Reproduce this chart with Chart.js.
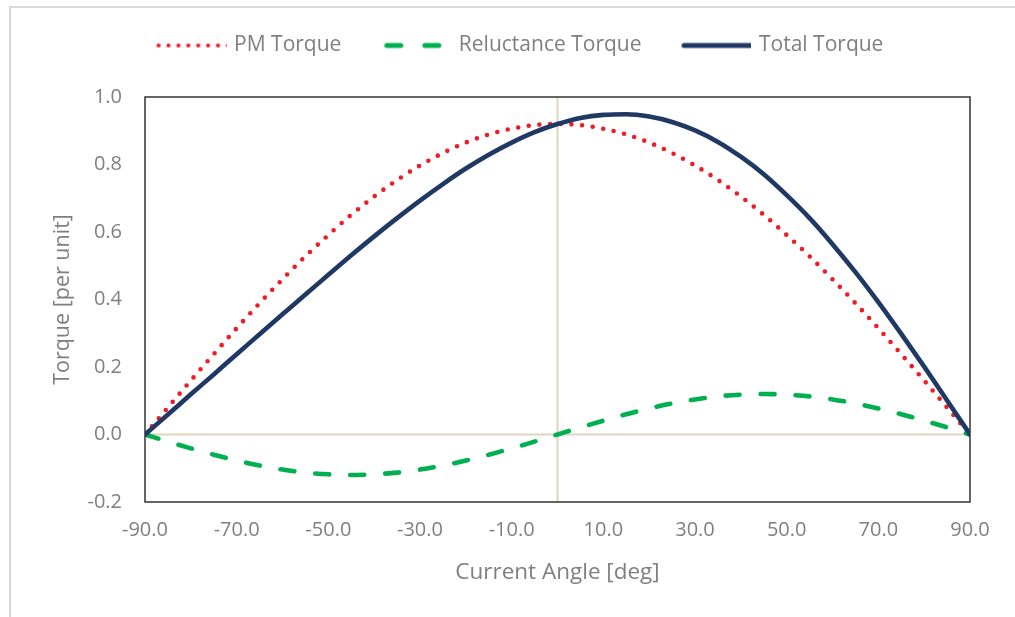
<!DOCTYPE html>
<html>
<head>
<meta charset="utf-8">
<script src="https://cdn.jsdelivr.net/npm/chart.js@4.4.1/dist/chart.umd.min.js"></script>
<style>
  body { margin: 0; background: #fff; }
  #wrap { position: absolute; left: 0; top: 0; width: 1015px; height: 617px; overflow: hidden; }
  #edge { position: absolute; left: 9px; top: 6px; width: 1100px; height: 700px;
          border-left: 2px solid #d9d9d9; border-top: 2px solid #d9d9d9; }
  canvas { position: absolute; left: 0; top: 0; }
</style>
</head>
<body>
<div id="wrap">
  <div id="edge"></div>
  <canvas id="chart" width="1015" height="617"></canvas>
</div>
<script>
// current angle [deg]
const angles = [-90, -85, -80, -75, -70, -65, -60, -55, -50, -45, -40, -35, -30, -25, -20, -15, -10, -5,
  0, 5, 10, 15, 20, 25, 30, 35, 40, 45, 50, 55, 60, 65, 70, 75, 80, 85, 90];

// torque [per unit]
const pmTorque = [0.000, 0.080, 0.160, 0.238, 0.315, 0.389, 0.460, 0.528, 0.591, 0.651, 0.705, 0.754, 0.797, 0.834, 0.865, 0.889, 0.906, 0.917,
  0.920, 0.917, 0.906, 0.889, 0.865, 0.834, 0.797, 0.754, 0.705, 0.651, 0.591, 0.528, 0.460, 0.389, 0.315, 0.238, 0.160, 0.080, 0.000];
const relTorque = [0.000, -0.021, -0.041, -0.060, -0.077, -0.092, -0.104, -0.113, -0.118, -0.120, -0.118, -0.113, -0.104, -0.092, -0.077, -0.060, -0.041, -0.021,
  0.000, 0.021, 0.041, 0.060, 0.077, 0.092, 0.104, 0.113, 0.118, 0.120, 0.118, 0.113, 0.104, 0.092, 0.077, 0.060, 0.041, 0.021, 0.000];
const totalTorque = [0.000, 0.059, 0.119, 0.178, 0.238, 0.297, 0.356, 0.415, 0.473, 0.531, 0.587, 0.641, 0.693, 0.742, 0.788, 0.829, 0.865, 0.896,
  0.920, 0.938, 0.947, 0.949, 0.942, 0.926, 0.901, 0.867, 0.823, 0.771, 0.709, 0.641, 0.564, 0.481, 0.392, 0.298, 0.201, 0.101, 0.000];

const xTicks = [-90, -70, -50, -30, -10, 10, 30, 50, 70, 90];
const yTicks = [-0.2, 0.0, 0.2, 0.4, 0.6, 0.8, 1.0];

const pts = vals => angles.map((a, i) => ({ x: a, y: vals[i] }));
const grey = '#7f7f7f';
const fontFam = '"Open Sans", sans-serif';
const red = '#ee1c25', green = '#00b050', navy = '#1f3864';

// legend line samples (Excel style), drawn into small canvases
const BOX = 97, IMG = 103, S0 = 33;
function sample(kind, color) {
  const c = document.createElement('canvas');
  c.width = IMG; c.height = 8;
  const g = c.getContext('2d');
  g.fillStyle = color; g.strokeStyle = color; g.lineCap = 'round'; g.lineWidth = 5;
  if (kind === 'dot') {
    for (let i = 0; i < 8; i++) {
      g.beginPath(); g.arc(S0 + 2 + i * 9.9, 4, 2.1, 0, Math.PI * 2); g.fill();
    }
  } else if (kind === 'dash') {
    g.beginPath();
    g.moveTo(S0 + 5.5, 4); g.lineTo(S0 + 19.5, 4);
    g.moveTo(S0 + 43.5, 4); g.lineTo(S0 + 57.5, 4);
    g.stroke();
  } else {
    g.beginPath(); g.moveTo(S0 + 2.5, 4); g.lineTo(S0 + 70, 4); g.stroke();
  }
  return c;
}
const samples = [sample('dot', red), sample('dash', green), sample('line', navy)];

// zero lines + plot frame, under the series
const frame = {
  id: 'frame',
  beforeDatasetsDraw(chart) {
    const { ctx, chartArea: a, scales: { x, y } } = chart;
    const x0 = x.getPixelForValue(0), y0 = y.getPixelForValue(0);
    ctx.save();
    ctx.strokeStyle = '#ddd6bd';
    ctx.lineWidth = 2;
    ctx.beginPath();
    ctx.moveTo(a.left, y0); ctx.lineTo(a.right, y0);
    ctx.moveTo(x0, a.top); ctx.lineTo(x0, a.bottom);
    ctx.stroke();
    ctx.strokeStyle = '#333';
    ctx.lineWidth = 1.5;
    ctx.strokeRect(a.left, a.top, a.width, a.height);
    ctx.restore();
  }
};

// fixed legend block height so the plot starts at the same place
const legendHeight = {
  id: 'legendHeight',
  beforeInit(chart) {
    const fit = chart.legend.fit;
    chart.legend.fit = function () {
      fit.bind(chart.legend)();
      this.height = 72;
    };
  }
};

new Chart(document.getElementById('chart'), {
  type: 'line',
  data: {
    datasets: [{
      label: 'PM Torque',
      data: pts(pmTorque),
      borderColor: red,
      borderWidth: 4.6,
      borderDash: [0, 10.7],
      borderCapStyle: 'round',
      pointRadius: 0,
      cubicInterpolationMode: 'monotone',
      order: 2
    }, {
      label: 'Reluctance Torque',
      data: pts(relTorque),
      borderColor: green,
      borderWidth: 4.6,
      borderDash: [14, 21],
      borderCapStyle: 'round',
      pointRadius: 0,
      cubicInterpolationMode: 'monotone',
      order: 1
    }, {
      label: 'Total Torque',
      data: pts(totalTorque),
      borderColor: navy,
      borderWidth: 4.6,
      borderCapStyle: 'round',
      pointRadius: 0,
      cubicInterpolationMode: 'monotone',
      order: 0
    }]
  },
  options: {
    responsive: false,
    animation: false,
    layout: { padding: { left: 40, right: 45, top: 25, bottom: 20 } },
    plugins: {
      tooltip: { enabled: false },
      legend: {
        position: 'top',
        labels: {
          usePointStyle: true,
          pointStyleWidth: BOX,
          padding: 10,
          color: grey,
          font: { family: fontFam, size: 21 },
          generateLabels(chart) {
            const items = Chart.defaults.plugins.legend.labels.generateLabels(chart);
            return items
              .sort((a, b) => a.datasetIndex - b.datasetIndex)
              .map(it => Object.assign(it, { pointStyle: samples[it.datasetIndex] }));
          }
        }
      }
    },
    scales: {
      x: {
        type: 'linear',
        min: -90,
        max: 90,
        afterBuildTicks: s => { s.ticks = xTicks.map(v => ({ value: v })); },
        afterFit: s => { s.height = 95; },
        grid: { display: false, drawTicks: false },
        border: { display: false },
        ticks: { color: grey, padding: 16, font: { family: fontFam, size: 20 }, callback: v => v.toFixed(1), maxRotation: 0 },
        title: { display: true, text: 'Current Angle [deg]', color: grey, font: { family: fontFam, size: 22.5 }, padding: { bottom: 11 } }
      },
      y: {
        min: -0.2,
        max: 1.0,
        afterBuildTicks: s => { s.ticks = yTicks.map(v => ({ value: v })); },
        afterFit: s => { s.width = 105; },
        grid: { display: false, drawTicks: false },
        border: { display: false },
        ticks: { color: grey, padding: 23, font: { family: fontFam, size: 20 }, callback: v => v.toFixed(1) },
        title: { display: true, text: 'Torque [per unit]', color: grey, font: { family: fontFam, size: 21.5 }, padding: { top: 10 } }
      }
    }
  },
  plugins: [frame, legendHeight]
});
</script>
</body>
</html>
